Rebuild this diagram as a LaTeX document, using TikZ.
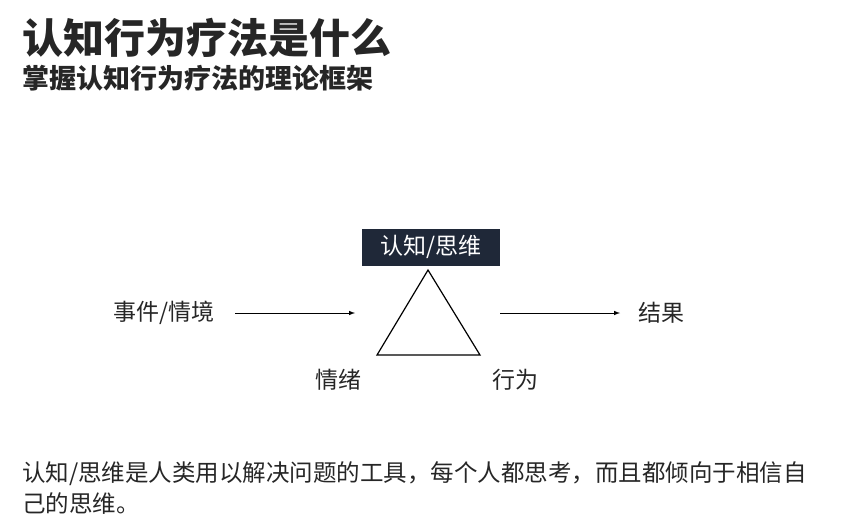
\documentclass[tikz,border=0pt]{standalone}
\usepackage{fontspec}
\setmainfont{Noto Sans CJK SC}
\definecolor{boxc}{HTML}{1F2838}
\begin{document}
\begin{tikzpicture}[x=1pt,y=-1pt,
  lbl/.style={font=\fontsize{23}{26}\selectfont, text=black!85, inner sep=0pt},
  arr/.style={-latex, line width=1pt}]
\useasboundingbox (0,0) rectangle (849,530);
\node[anchor=west, inner sep=0pt, font=\fontsize{41}{44}\selectfont\bfseries, text=black!85] (title) at (22,38) {认知行为疗法是什么};
\node[anchor=west, inner sep=0pt, font=\fontsize{27}{30}\selectfont\bfseries, text=black!85] (sub) at (22,78) {掌握认知行为疗法的理论框架};
\node[fill=boxc, text=white, font=\fontsize{23}{26}\selectfont, minimum width=138pt, minimum height=37pt, inner sep=0pt] (cog) at (431,247) {认知/思维};
\coordinate (apex) at (428,270);
\coordinate (bl) at (377,355);
\coordinate (br) at (480,355);
\draw[line width=1.2pt] (apex) -- (bl) -- (br) -- cycle;
\node[lbl] (event) at (164,313) {事件/情境};
\node[lbl] (result) at (661,313) {结果};
\node[lbl] (emo) at (338,380) {情绪};
\node[lbl] (beh) at (515,380) {行为};
\coordinate (a0) at (235,313);
\coordinate (a1) at (355,313);
\coordinate (b0) at (500,313);
\coordinate (b1) at (620,313);
\draw[arr] (a0) -- (a1);
\draw[arr] (b0) -- (b1);
\node[anchor=west, inner sep=0pt, font=\fontsize{23.5}{31}\selectfont, text=black!85, align=left, text width=820pt] (desc) at (22,488) {认知/思维是人类用以解决问题的工具，每个人都思考，而且都倾向于相信自\\己的思维。};
\end{tikzpicture}
\end{document}
